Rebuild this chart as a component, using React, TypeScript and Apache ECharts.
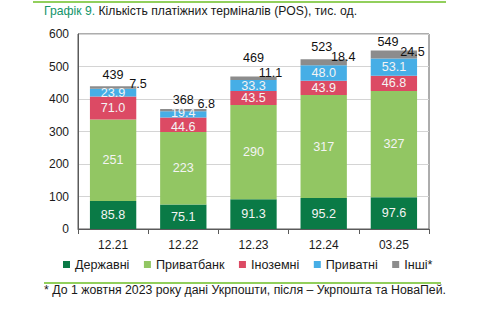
import React, { useEffect, useRef } from "react";
import * as echarts from "echarts";

const categories = ["12.21", "12.22", "12.23", "12.24", "03.25"];
const state = [85.8, 75.1, 91.3, 95.2, 97.6];
const privatbank = [251, 223, 290, 317, 327];
const foreign = [71.0, 44.6, 43.5, 43.9, 46.8];
const privateBanks = [23.9, 19.4, 33.3, 48.0, 53.1];
const others = [7.5, 6.8, 11.1, 18.4, 24.5];
const totals = [439, 368, 469, 523, 549];
const yTicks = [0, 100, 200, 300, 400, 500, 600];

const FONT = "'Liberation Sans', Arial, sans-serif";

// label placement tweaks (pixels), per category
const othersLabelOffsets = [[25, 9.5], [23, 6.5], [17, 7.5], [19.5, 9], [18.5, 12.5]];
const totalLabelOffsets = [[0, 0], [0, 2], [0, -7], [-2, -1], [-6, 3]];
const foreignLabelOffsets = [[0, 0], [0, 2], [0, 0], [0, 0], [0, 0]];
const privateLabelOffsets = [[0, 0], [0, -1], [0, 0], [0, 0], [0, 0]];

export default function App() {
  const ref = useRef<HTMLDivElement>(null);
  useEffect(() => {
    if (!ref.current) return;
    const chart = echarts.init(ref.current, null, { renderer: "svg" });
    const inside = (decimals: number) => ({
      show: true,
      position: "inside",
      color: "#f4f4f4",
      fontSize: 12.6,
      lineHeight: 10,
      fontFamily: FONT,
      formatter: (p: any) => Number(p.value).toFixed(decimals),
    });
    const withOffsets = (vals: number[], offs: number[][]) =>
      vals.map((v, i) => ({ value: v, label: { offset: offs[i] } }));
    const common = { type: "bar", stack: "all", barWidth: "66%" };
    chart.setOption({
      animation: false,
      backgroundColor: "#ffffff",
      textStyle: { fontFamily: FONT },
      title: {
        left: 44,
        top: 2,
        padding: [3, 0, 0, 0],
        text: "{a|Графік 9.} {b|Кількість платіжних терміналів (POS), тис. од.}",
        textStyle: {
          fontWeight: "normal",
          fontSize: 12.2,
          rich: {
            a: { color: "#12946a", fontSize: 12.2, fontFamily: FONT, fontWeight: "normal" },
            b: { color: "#1a1a1a", fontSize: 12.2, fontFamily: FONT, fontWeight: "normal" },
          },
        },
      },
      legend: {
        left: 63,
        top: 258,
        padding: 0,
        itemWidth: 7,
        itemHeight: 7,
        itemGap: 14.5,
        icon: "rect",
        textStyle: { fontSize: 12.6, color: "#1a1a1a", fontFamily: FONT },
        data: ["Державні", "Приватбанк", "Іноземні", "Приватні", "Інші*"],
      },
      grid: {
        left: 78,
        right: 61,
        top: 34,
        bottom: 96,
        show: true,
        borderColor: "#5a5a5a",
        borderWidth: 1,
      },
      xAxis: {
        type: "category",
        data: categories,
        axisLine: { lineStyle: { color: "#5a5a5a" } },
        axisTick: { show: true, length: 5, lineStyle: { color: "#5a5a5a" } },
        axisLabel: { fontSize: 12, color: "#1a1a1a", margin: 10, fontFamily: FONT },
      },
      yAxis: {
        type: "value",
        min: yTicks[0],
        max: yTicks[yTicks.length - 1],
        interval: 100,
        axisLine: { show: true, lineStyle: { color: "#5a5a5a" } },
        axisTick: { show: false },
        splitLine: { lineStyle: { color: "#d4d4d4" } },
        axisLabel: { fontSize: 12, color: "#1a1a1a", margin: 9, fontFamily: FONT },
      },
      series: [
        { ...common, name: "Державні", data: state, itemStyle: { color: "#0a7a46" }, label: inside(1) },
        { ...common, name: "Приватбанк", data: privatbank, itemStyle: { color: "#92c663" }, label: inside(0) },
        {
          ...common,
          name: "Іноземні",
          data: withOffsets(foreign, foreignLabelOffsets),
          itemStyle: { color: "#dc4a64" },
          label: inside(1),
        },
        {
          ...common,
          name: "Приватні",
          data: withOffsets(privateBanks, privateLabelOffsets),
          itemStyle: { color: "#46aee6" },
          label: inside(1),
        },
        {
          ...common,
          name: "Інші*",
          data: withOffsets(others, othersLabelOffsets),
          itemStyle: { color: "#8c8c8c" },
          label: {
            show: true,
            position: "top",
            color: "#111111",
            fontSize: 12.6,
            fontFamily: FONT,
            formatter: (p: any) => Number(p.value).toFixed(1),
          },
        },
        {
          ...common,
          name: "total",
          data: totals.map((_, i) => ({ value: 0, label: { offset: totalLabelOffsets[i] } })),
          itemStyle: { color: "transparent" },
          label: {
            show: true,
            position: "top",
            distance: 5,
            color: "#111111",
            fontSize: 12.6,
            fontFamily: FONT,
            formatter: (p: any) => String(totals[p.dataIndex]),
          },
        },
      ],
      graphic: [
        { type: "line", shape: { x1: 33, y1: 2, x2: 446, y2: 2 }, style: { stroke: "#92cf5c", lineWidth: 2 } },
        { type: "line", shape: { x1: 44, y1: 283, x2: 441, y2: 283 }, style: { stroke: "#92cf5c", lineWidth: 2 } },
        {
          type: "text",
          left: 44,
          top: 284,
          style: {
            text: "* До 1 жовтня 2023 року дані Укрпошти, після – Укрпошта та НоваПей.",
            fill: "#1a1a1a",
            fontSize: 12.3,
            fontFamily: FONT,
          },
        },
      ],
    });
    return () => chart.dispose();
  }, []);
  return (
    <div
      ref={ref}
      style={{ position: "fixed", left: 0, top: 0, width: 490, height: 325, background: "#fff" }}
    />
  );
}
